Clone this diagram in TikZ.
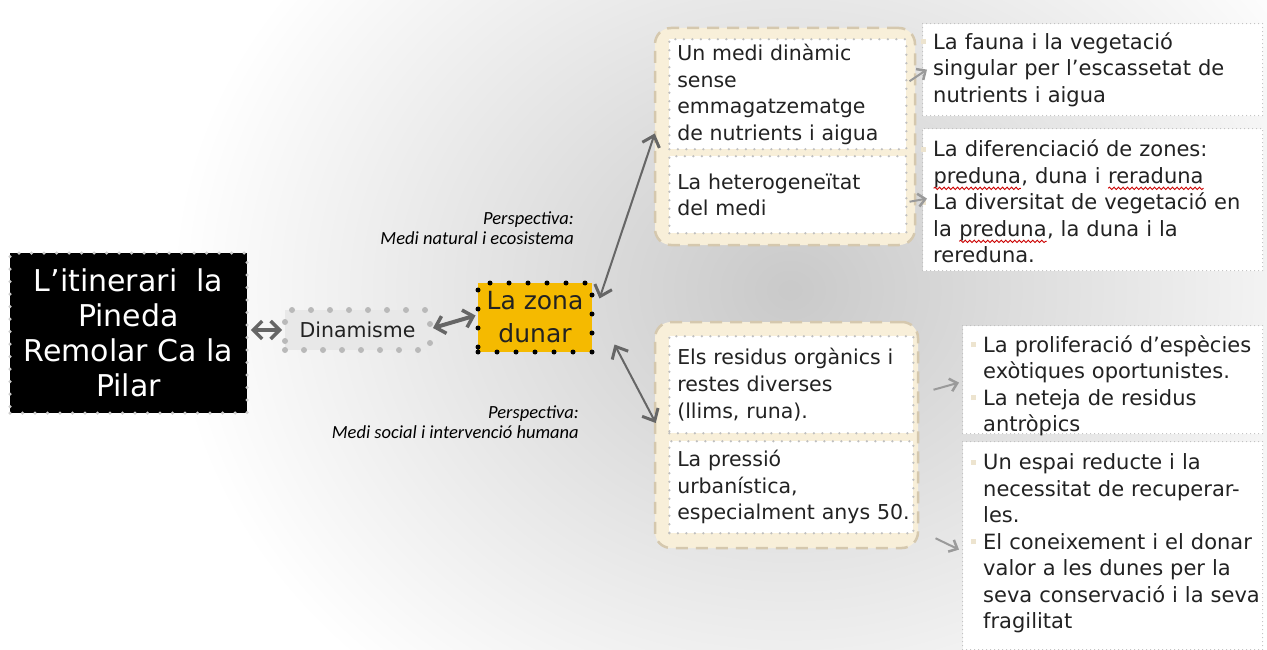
\documentclass[tikz,border=0pt]{standalone}
\usepackage{fontspec}
\setmainfont{DejaVu Sans}
\newfontfamily\carl{Carlito}
\usetikzlibrary{arrows.meta,calc,decorations.pathmorphing}
\definecolor{zone}{HTML}{F5BA00}
\definecolor{cream}{HTML}{F8EFD9}
\definecolor{creamedge}{HTML}{D5C8AE}
\definecolor{arr}{HTML}{666666}
\definecolor{arrlight}{HTML}{9A9A9A}
\definecolor{txt}{HTML}{222222}
\definecolor{bulc}{HTML}{EDE4CF}
\newcommand\redwave[1]{\begin{tikzpicture}[baseline=(w.base),x=1pt,y=1pt]\node[inner sep=0pt,outer sep=0pt,anchor=base,text=txt] (w) {#1};\draw[red!80!black,line width=0.9pt,decorate,decoration={snake,amplitude=1.2pt,segment length=4.5pt}] ([yshift=-5pt]w.base west) -- ([yshift=-5pt]w.base east);\end{tikzpicture}}
\newcommand\bul{\leavevmode\llap{\textcolor{bulc}{\rule[5pt]{5pt}{5pt}}\hspace{7pt}}}
\tikzset{
  mainbox/.style={fill=black, text=white, draw=white!80!black, line width=3.5pt,
    dash pattern=on 0pt off 12.5pt, line cap=round, align=center,
    font=\fontsize{30}{35}\selectfont, minimum width=237pt, minimum height=160pt, inner sep=0pt},
  dynbox/.style={fill=gray!18, draw=gray!55, line width=6pt, dash pattern=on 0pt off 19pt,
    line cap=round, text=txt, font=\fontsize{20.5}{24}\selectfont,
    minimum width=145pt, minimum height=40pt, inner sep=0pt},
  zonebox/.style={fill=zone, draw=black, line width=5pt, dash pattern=on 0pt off 19pt,
    line cap=round, text=txt, align=center, font=\fontsize{25}{33}\selectfont,
    minimum width=114pt, minimum height=69pt, inner sep=0pt},
  group/.style={fill=cream, draw=creamedge, line width=2.5pt, dash pattern=on 12pt off 8pt,
    rounded corners=16pt, inner sep=0pt},
  ibox/.style={fill=white, draw=gray!50, line width=2.5pt, dash pattern=on 0pt off 8.5pt,
    line cap=round, text width=#1, align=left, inner xsep=8pt, inner ysep=0pt,
    anchor=north west, text=txt, font=\fontsize{20.5}{26.6}\selectfont},
  rbox/.style={fill=white, draw=gray!50, line width=1.2pt, dash pattern=on 0pt off 4pt,
    line cap=round, inner sep=0pt, anchor=north west},
  rtext/.style={text width=#1, align=left, inner sep=0pt, anchor=west, text=txt,
    font=\fontsize{21}{26.5}\selectfont},
  persp/.style={align=right, inner sep=0pt, anchor=north east, text=black,
    font=\carl\itshape\fontsize{18.5}{19.5}\selectfont},
  bigarrow/.style={draw=arr, line width=4pt,
    {Straight Barb[length=9pt,width=18pt,line width=3.5pt]}-{Straight Barb[length=9pt,width=18pt,line width=3.5pt]}},
  midarrow/.style={draw=arr, line width=2pt,
    {Straight Barb[length=10pt,width=18pt,line width=3pt]}-{Straight Barb[length=10pt,width=18pt,line width=3pt]}},
  smallarrow/.style={draw=arrlight, line width=2pt,
    -{Straight Barb[length=7pt,width=13pt,line width=2.5pt]}},
}
\begin{document}
\begin{tikzpicture}[x=1pt,y=-1pt]
\useasboundingbox (0,0) rectangle (1267,650);
\fill[white] (0,0) rectangle (1267,650);
\begin{scope}
  \clip (0,0) rectangle (1267,650);
  \shade[inner color=gray!42, outer color=white] (790,290) ellipse [x radius=620, y radius=520];
\end{scope}

% left chain
\node[mainbox] (main) at (128.5,333) {L’itinerari\ \ la\\Pineda\\Remolar Ca la\\Pilar};
\node[dynbox] (dyn) at (357.5,330) {Dinamisme};
\node[zonebox] (zona) at (535,317.5) {La zona\\dunar};

\draw[bigarrow] ([xshift=2pt,yshift=3pt]main.east) -- (dyn.west);
\draw[bigarrow] ([yshift=2pt]dyn.east) -- ([yshift=2pt]zona.west);

% perspective labels
\node[persp] (p1) at (574,212) {Perspectiva:\\Medi natural i ecosistema};
\node[persp] (p2) at (579,406) {Perspectiva:\\Medi social i intervenció humana};

% upper group
\node[group, minimum width=260pt, minimum height=217pt] (ug) at (785,136.5) {};
\node[ibox=221pt, minimum height=110pt] (b1) at (668,38) {Un medi dinàmic\\sense\\emmagatzematge\\de nutrients i aigua};
\node[ibox=221pt, minimum height=77pt] (b2) at (668,155) {La heterogeneïtat\\del medi};

% lower group
\node[group, minimum width=263pt, minimum height=226pt] (lg) at (786.5,435) {};
\node[ibox=228pt, minimum height=97pt] (b3) at (668,335) {\mbox{Els residus orgànics i}\\restes diverses\\(llims, runa).};
\node[ibox=228pt, minimum height=92pt] (b4) at (668,440) {La pressió\\urbanística,\\\mbox{especialment anys 50.}};

% connectors from zona
\draw[midarrow] ([xshift=5pt,yshift=19pt]zona.east) -- ([xshift=1pt,yshift=3pt]ug.west);
\draw[midarrow] ([xshift=20pt,yshift=-27pt]zona.east) -- ([xshift=2pt,yshift=12pt]lg.west);

% right boxes
\node[rbox, minimum width=340pt, minimum height=92pt] (rb1) at (922,23) {};
\node[rtext=325pt] (t1) at ([xshift=11pt]rb1.west) {\bul La fauna i la vegetació\\singular per l’escassetat de\\nutrients i aigua};
\node[rbox, minimum width=340pt, minimum height=142pt] (rb2) at (922,128) {};
\node[rtext=325pt] (t2) at ([xshift=11pt,yshift=-2pt]rb2.west) {\bul La diferenciació de zones:\\\redwave{preduna}, duna i \redwave{reraduna}\\\bul La diversitat de vegetació en\\la \redwave{preduna}, la duna i la\\rereduna.};
\node[rbox, minimum width=300pt, minimum height=108pt] (rb3) at (962,325) {};
\node[rtext=280pt] (t3) at ([xshift=21pt,yshift=-6pt]rb3.west) {\bul La proliferació d’espècies\\exòtiques oportunistes.\\\bul La neteja de residus\\antròpics};
\node[rbox, minimum width=300pt, minimum height=208pt] (rb4) at (962,441) {};
\node[rtext=280pt] (t4) at ([xshift=21pt,yshift=2pt]rb4.west) {\bul Un espai reducte i la\\necessitat de recuperar-\\les.\\\bul El coneixement i el donar\\valor a les dunes per la\\seva conservació i la seva\\fragilitat};

% small arrows
\draw[smallarrow] ([xshift=2pt,yshift=13pt]b1.east) -- ([xshift=5pt]rb1.west);
\draw[smallarrow] ([xshift=2pt,yshift=-7pt]b2.east) -- ([xshift=5pt,yshift=1pt]rb2.west);
\draw[smallarrow] ([xshift=19pt,yshift=-5pt]b3.east) -- ([xshift=-3pt,yshift=-3pt]rb3.west);
\draw[smallarrow] ([xshift=21pt,yshift=-51pt]b4.east) -- ([xshift=-3pt,yshift=-4pt]rb4.west);
\end{tikzpicture}
\end{document}
